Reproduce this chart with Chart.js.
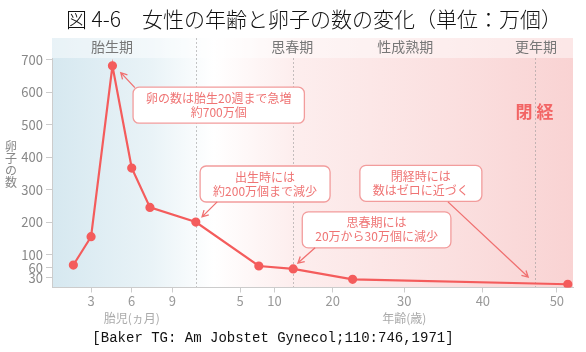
<!DOCTYPE html>
<html>
<head>
<meta charset="utf-8">
<script src="https://cdn.jsdelivr.net/npm/chart.js@4.4.1/dist/chart.umd.min.js"></script>
<style>
  html, body { margin: 0; padding: 0; background: #fff; }
</style>
</head>
<body>
<canvas id="eggChart" width="586" height="352"></canvas>
<script>
// x axis is a drawn timeline (fetal months, then years), so values are timeline positions 0-100
const tickLabels = ['3', '6', '9', '5', '10', '20', '30', '40', '50'];
const tickPositions = [7.5, 15.3, 23.1, 36.1, 42.7, 53.9, 67.6, 82.7, 96.9];
const yTicks = [30, 60, 100, 200, 300, 400, 500, 600, 700];

// egg count (10k units)
const pointPositions = [4.1, 7.5, 11.6, 15.3, 18.8, 27.6, 39.7, 46.3, 57.7, 99.0];
const eggCounts = [69, 156, 681, 367, 246, 201, 66, 57, 25, 10];

const phaseNames = ['胎生期', '思春期', '性成熟期', '更年期'];
const phasePositions = [11.5, 46.1, 67.8, 92.9];
const phaseLines = [27.6, 46.3, 92.7];

const axisGroups = ['胎児(ヵ月)', '年齢(歳)'];
const axisGroupPositions = [15.3, 67.6];

const notes = [
    { lines: ['卵の数は胎生20週まで急増', '約700万個'], x: 32.0, y: 560, from: [15.9, 614], to: [13.2, 660] },
    { lines: ['出生時には', '約200万個まで減少'], x: 40.9, y: 318, from: [31.7, 263], to: [28.8, 217] },
    { lines: ['思春期には', '20万から30万個に減少'], x: 62.3, y: 177, from: [50.5, 122], to: [47.2, 75] },
    { lines: ['閉経時には', '数はゼロに近づく'], x: 70.8, y: 320, from: [76.0, 263], to: [91.4, 32] }
];

const JP = '"Noto Sans CJK JP", sans-serif';
const RED = '#f45c5c';

const backdrop = {
    id: 'backdrop',
    beforeDraw(chart) {
        const { ctx, chartArea: a } = chart;
        const g = ctx.createLinearGradient(a.left, 0, a.right, 0);
        g.addColorStop(0, 'rgb(214,232,240)');
        g.addColorStop(0.19, 'rgb(233,243,247)');
        g.addColorStop(0.31, 'rgb(255,255,255)');
        g.addColorStop(0.46, 'rgb(253,238,238)');
        g.addColorStop(0.76, 'rgb(251,224,224)');
        g.addColorStop(1, 'rgb(249,211,211)');
        ctx.save();
        ctx.fillStyle = g;
        ctx.fillRect(a.left, a.top - 20, a.right - a.left, a.bottom - a.top + 20);
        // lighter header band
        ctx.fillStyle = 'rgba(255,255,255,0.45)';
        ctx.fillRect(a.left, a.top - 20, a.right - a.left, 20);

        // title
        ctx.fillStyle = '#111';
        ctx.font = '300 21px ' + JP;
        ctx.textAlign = 'center';
        ctx.textBaseline = 'middle';
        ctx.fillText('図 4-6\u3000女性の年齢と卵子の数の変化（単位：万個）', 314, 19);

        // citation
        ctx.font = '14px "Liberation Mono", monospace';
        ctx.fillText('[Baker TG: Am Jobstet Gynecol;110:746,1971]', 273, 338);

        const x = chart.scales.x;
        // phase dividers
        ctx.strokeStyle = 'rgba(150,150,150,0.55)';
        ctx.lineWidth = 1;
        ctx.setLineDash([2, 2]);
        phaseLines.forEach((p, i) => {
            const px = Math.round(x.getPixelForValue(p)) + 0.5;
            ctx.beginPath();
            ctx.moveTo(px, i === 0 ? a.top - 20 : a.top);
            ctx.lineTo(px, a.bottom);
            ctx.stroke();
        });
        ctx.setLineDash([]);

        // phase names
        ctx.fillStyle = '#777';
        ctx.font = '14px ' + JP;
        phaseNames.forEach((n, i) => ctx.fillText(n, x.getPixelForValue(phasePositions[i]), a.top - 11));

        // axis group labels
        ctx.fillStyle = '#aaa';
        ctx.font = '12px ' + JP;
        axisGroups.forEach((n, i) => ctx.fillText(n, x.getPixelForValue(axisGroupPositions[i]), 318));

        // vertical y title
        ctx.fillStyle = '#888';
        [...'卵子の数'].forEach((c, i) => ctx.fillText(c, 11, 146 + i * 12));
        ctx.restore();
    }
};

function arrow(ctx, x1, y1, x2, y2) {
    const ang = Math.atan2(y2 - y1, x2 - x1);
    ctx.beginPath();
    ctx.moveTo(x1, y1);
    ctx.lineTo(x2, y2);
    ctx.moveTo(x2 - 7 * Math.cos(ang - 0.5), y2 - 7 * Math.sin(ang - 0.5));
    ctx.lineTo(x2, y2);
    ctx.lineTo(x2 - 7 * Math.cos(ang + 0.5), y2 - 7 * Math.sin(ang + 0.5));
    ctx.stroke();
}

const callouts = {
    id: 'callouts',
    afterDatasetsDraw(chart) {
        const { ctx, scales: { x, y } } = chart;
        ctx.save();
        ctx.font = '12px ' + JP;
        ctx.textAlign = 'center';
        ctx.textBaseline = 'middle';
        notes.forEach(n => {
            const cx = x.getPixelForValue(n.x), cy = y.getPixelForValue(n.y);
            const w = Math.max(...n.lines.map(l => ctx.measureText(l).width)) + 26;
            const h = 36;
            ctx.beginPath();
            ctx.roundRect(cx - w / 2, cy - h / 2, w, h, 6);
            ctx.fillStyle = '#fff';
            ctx.fill();
            ctx.strokeStyle = '#f29c9c';
            ctx.lineWidth = 1.3;
            ctx.stroke();
            ctx.fillStyle = '#ef7474';
            n.lines.forEach((l, i) => ctx.fillText(l, cx, cy - 7 + i * 14));
            ctx.strokeStyle = '#f07070';
            ctx.lineWidth = 1.3;
            arrow(ctx, x.getPixelForValue(n.from[0]), y.getPixelForValue(n.from[1]),
                x.getPixelForValue(n.to[0]), y.getPixelForValue(n.to[1]));
        });
        // menopause label
        ctx.fillStyle = '#f26464';
        ctx.font = 'bold 17px ' + JP;
        ctx.fillText('閉 経', x.getPixelForValue(92.6), y.getPixelForValue(541));
        ctx.restore();
    }
};

const chart = new Chart(document.getElementById('eggChart'), {
    type: 'scatter',
    data: {
        datasets: [{
            data: pointPositions.map((p, i) => ({ x: p, y: eggCounts[i] })),
            showLine: true,
            borderColor: RED,
            backgroundColor: RED,
            borderWidth: 2.2,
            pointRadius: 3.5,
            pointHoverRadius: 3.5
        }]
    },
    options: {
        responsive: false,
        animation: false,
        layout: { padding: { top: 58, right: 13, left: 0, bottom: 0 } },
        plugins: {
            legend: { display: false },
            tooltip: { enabled: false }
        },
        scales: {
            x: {
                type: 'linear',
                min: 0,
                max: 100,
                afterBuildTicks: s => { s.ticks = tickPositions.map(v => ({ value: v })); },
                afterFit: s => { s.height = 64.5; },
                ticks: {
                    autoSkip: false,
                    maxRotation: 0,
                    padding: 1,
                    color: '#999',
                    font: { size: 13, family: JP },
                    callback: (v, i) => tickLabels[i]
                },
                grid: { drawOnChartArea: false, tickLength: 5, color: '#ccc' },
                border: { color: '#ccc' }
            },
            y: {
                min: 0,
                max: 705,
                afterBuildTicks: s => { s.ticks = yTicks.map(v => ({ value: v })); },
                afterFit: s => { s.width = 52; },
                ticks: {
                    autoSkip: false,
                    padding: 3,
                    color: '#888',
                    font: { size: 13, family: JP }
                },
                grid: { drawOnChartArea: false, tickLength: 6, color: '#ccc' },
                border: { color: '#ccc' }
            }
        }
    },
    plugins: [backdrop, callouts]
});
</script>
</body>
</html>
